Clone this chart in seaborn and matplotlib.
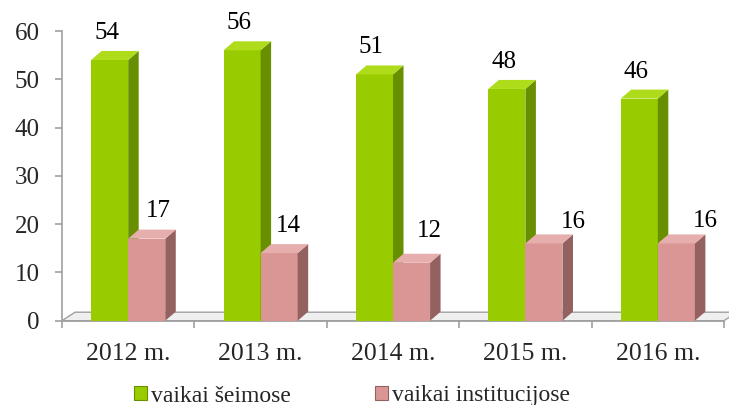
import matplotlib
matplotlib.use("Agg")
import matplotlib.pyplot as plt
from matplotlib.patches import Polygon, Patch
import seaborn as sns
import pandas as pd

# Data
years = ["2012 m.", "2013 m.", "2014 m.", "2015 m.", "2016 m."]
series_names = ["vaikai šeimose", "vaikai institucijose"]
families = [54, 56, 51, 48, 46]
institutions = [17, 14, 12, 16, 16]
y_ticks = [0, 10, 20, 30, 40, 50, 60]

# Styling
front = ["#99CC00", "#D99694"]
side = ["#678F00", "#936160"]
top = ["#AEDC1A", "#E6AEAC"]
axis_grey = "#A0A0A0"
depth_px = (10.5, 9.0)          # bar depth on screen (right, up)
floor_px = (13.0, 8.5)          # floor depth on screen
label_nudge = [                 # value label offsets in pixels (x, y)
    [(-3, 27)] * 5,
    [(12, 28), (9, 27), (18, 32), (29, 21), (29, 22)],
]

sns.set_style("white")
plt.rcParams["font.family"] = ["Liberation Serif", "DejaVu Serif"]

df = pd.DataFrame({
    "year": years * 2,
    "value": families + institutions,
    "series": [series_names[0]] * len(years) + [series_names[1]] * len(years),
})

W, H = 729, 405
fig = plt.figure(figsize=(W / 100, H / 100), dpi=100)
ax_l, ax_r, ax_b, ax_t = 62, 724, 320.7, 31
ax = fig.add_axes([ax_l / W, 1 - ax_b / H, (ax_r - ax_l) / W, (ax_b - ax_t) / H])

sns.barplot(data=df, x="year", y="value", hue="series", palette=front,
            width=0.56, saturation=1, linewidth=0, legend=False, ax=ax)

ax.set_xlim(-0.5, len(years) - 0.5)
ax.set_ylim(0, 60)

# pixel -> data conversion
px_x = (len(years)) / (ax_r - ax_l)
px_y = 60 / (ax_b - ax_t)
ddx, ddy = depth_px[0] * px_x, depth_px[1] * px_y
fdx, fdy = floor_px[0] * px_x, floor_px[1] * px_y

# floor plate
x0, x1 = -0.5, len(years) - 0.5
ax.add_patch(Polygon([(x0, 0), (x1, 0), (x1 + fdx, fdy), (x0 + fdx, fdy)],
                     closed=True, facecolor="#EFEFEF", edgecolor=axis_grey,
                     linewidth=1, clip_on=False, zorder=1))

# 3D sides and tops for every bar
for k, (cont, vals) in enumerate(zip(ax.containers, [families, institutions])):
    z = 2 + k
    for bar, v in zip(cont, vals):
        bar.set_zorder(z)
        bar.set_clip_on(False)
        bx, bw, bh = bar.get_x(), bar.get_width(), bar.get_height()
        r = bx + bw
        ax.add_patch(Polygon([(r, 0), (r + ddx, ddy), (r + ddx, bh + ddy), (r, bh)],
                             closed=True, facecolor=side[k], edgecolor="none",
                             clip_on=False, zorder=z))
        ax.add_patch(Polygon([(bx, bh), (r, bh), (r + ddx, bh + ddy), (bx + ddx, bh + ddy)],
                             closed=True, facecolor=top[k], edgecolor="none",
                             clip_on=False, zorder=z))
    for bar, v, (nx, ny) in zip(cont, vals, label_nudge[k]):
        ax.annotate(str(v), xy=(bar.get_x() + bar.get_width() / 2, bar.get_height()),
                    xytext=(nx, ny), textcoords="offset pixels",
                    ha="center", va="center", fontsize=18, color="black",
                    zorder=5, annotation_clip=False)

# axes styling
for s in ["top", "right"]:
    ax.spines[s].set_visible(False)
for s in ["left", "bottom"]:
    ax.spines[s].set_color(axis_grey)
    ax.spines[s].set_linewidth(1.2)
ax.spines["bottom"].set_zorder(1.5)

ax.set_yticks(y_ticks)
ax.set_yticklabels([str(t) for t in y_ticks])
ax.tick_params(axis="y", direction="out", length=5, width=1.2, color=axis_grey,
               labelsize=18, pad=11, left=True)
ax.set_xticks(range(len(years)))
ax.set_xticklabels(years)
ax.set_xticks([i - 0.5 for i in range(len(years) + 1)], minor=True)
ax.tick_params(axis="x", which="major", length=0, labelsize=18.5, pad=16)
ax.tick_params(axis="x", which="minor", direction="out", length=5, width=1.2,
               color=axis_grey, bottom=True)
ax.set_xlabel("")
ax.set_ylabel("")

handles = [Patch(facecolor=front[i], edgecolor=side[i], linewidth=0.8, label=series_names[i])
           for i in range(2)]
fig.legend(handles=handles, loc="center", bbox_to_anchor=(352 / W, 1 - 396 / H),
           ncol=2, frameon=False, fontsize=17, handlelength=0.55, handleheight=0.55,
           handletextpad=0.15, columnspacing=3.6, borderpad=0)

fig.savefig("out.png", dpi=100)
